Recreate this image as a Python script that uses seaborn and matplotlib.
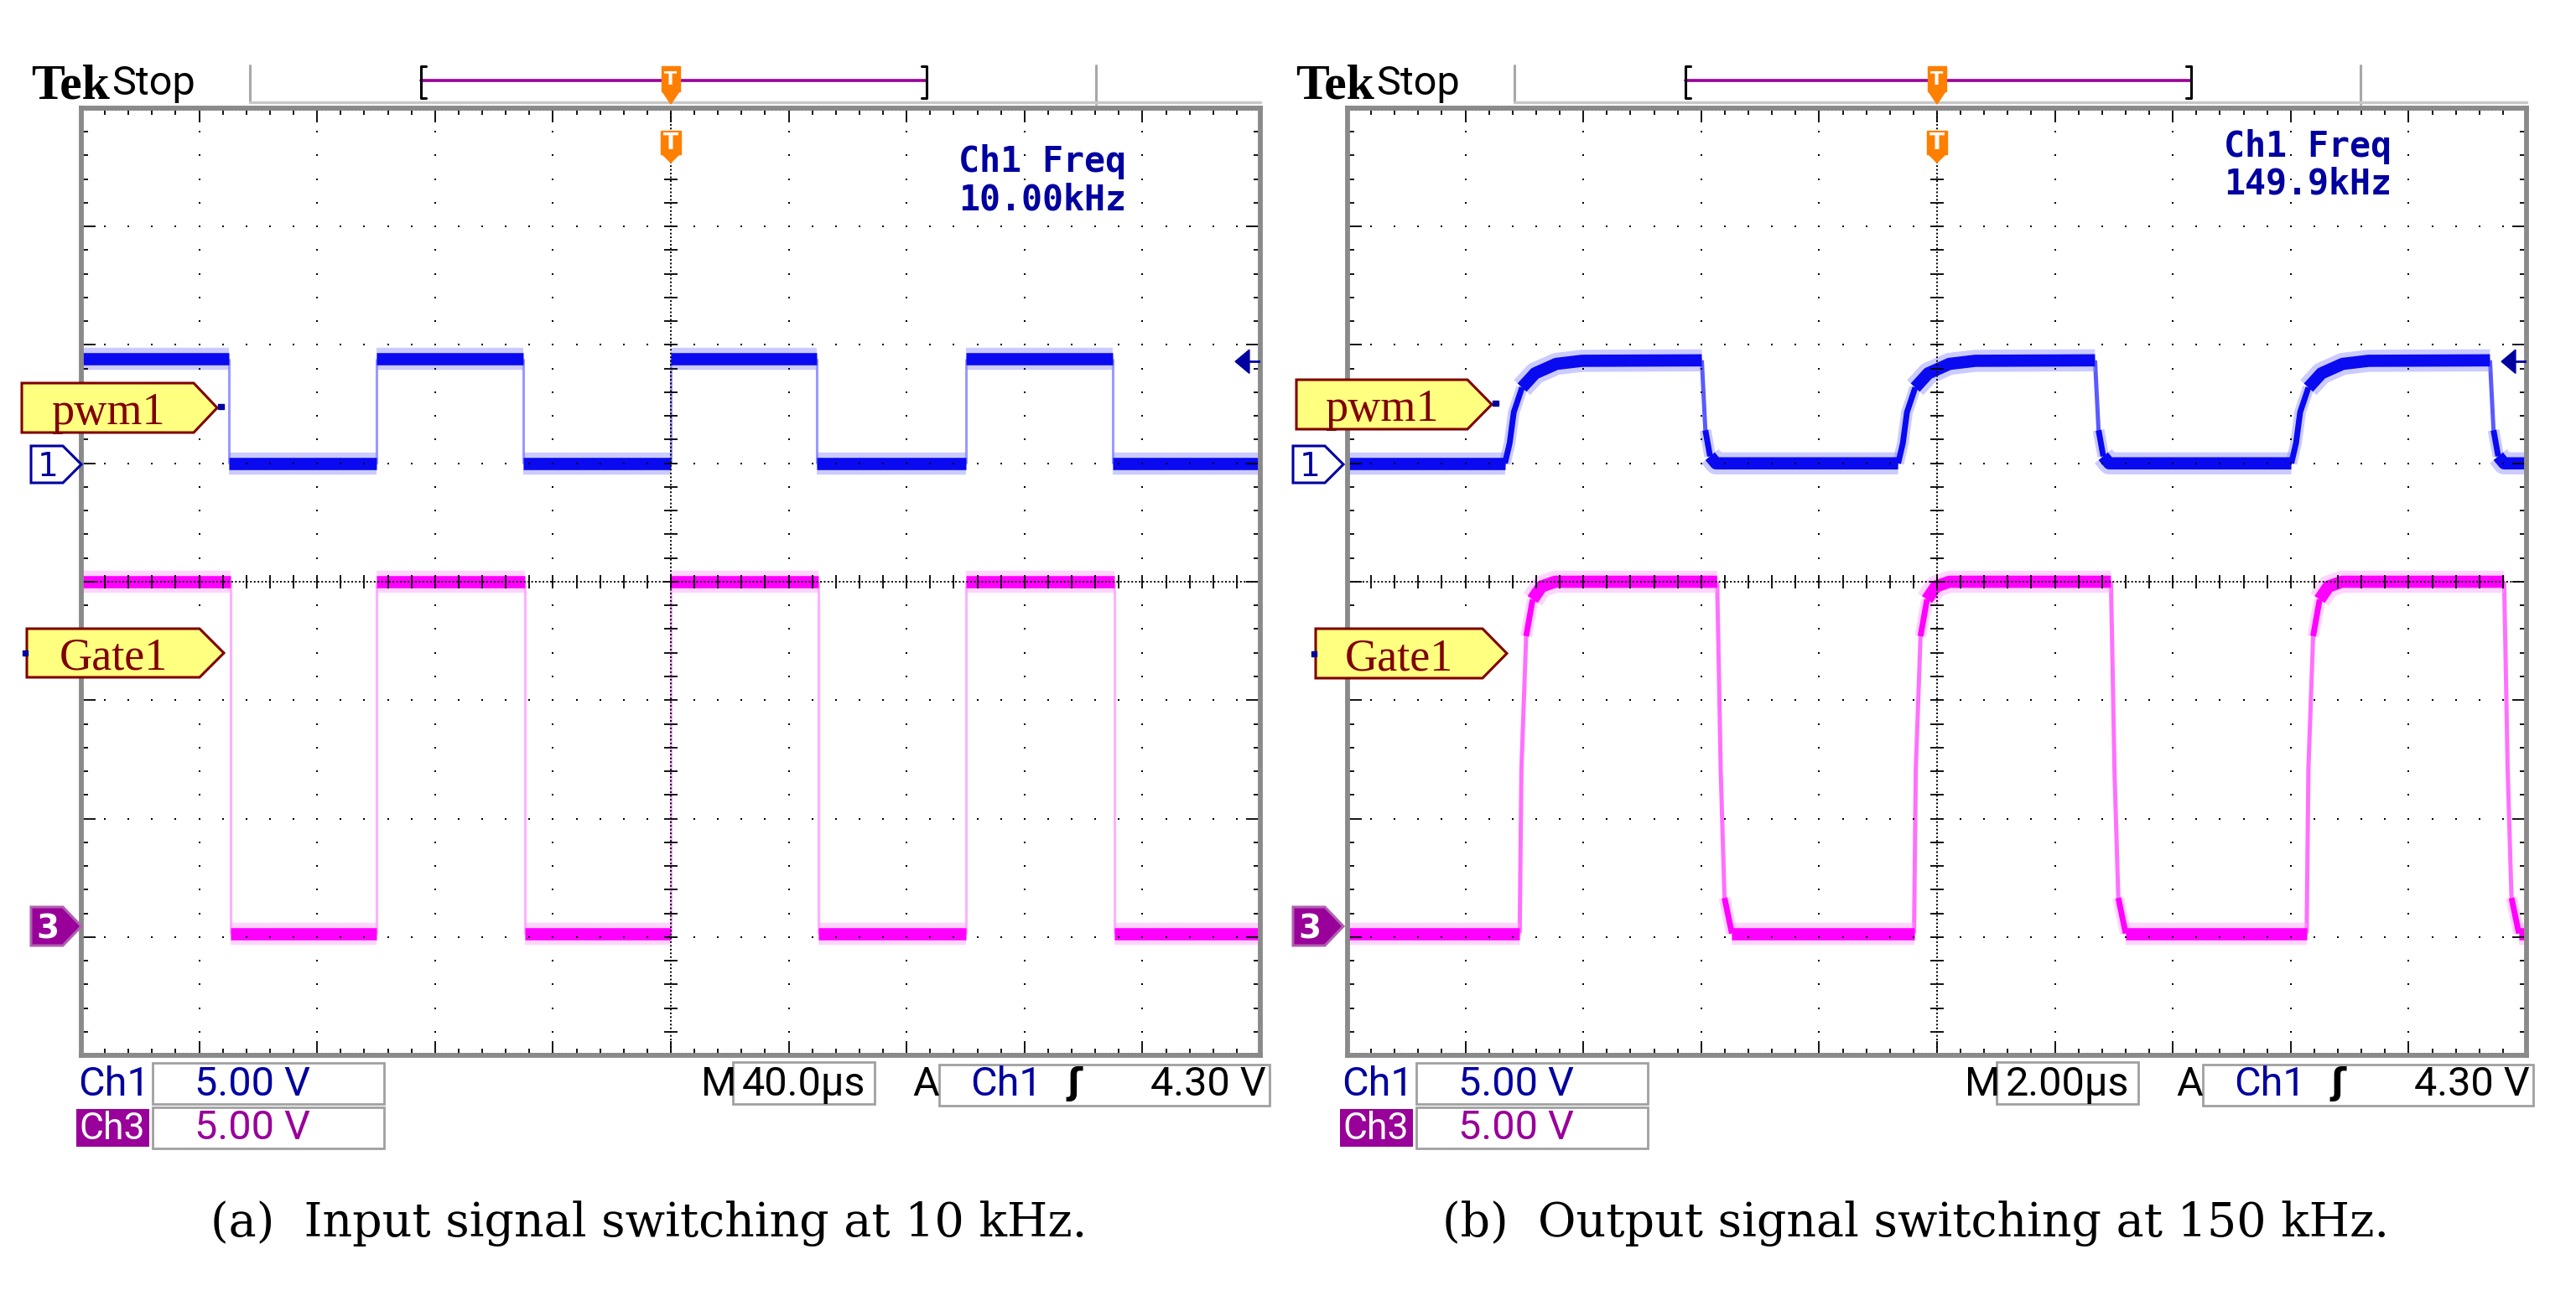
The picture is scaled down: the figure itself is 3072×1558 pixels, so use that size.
import matplotlib
matplotlib.use("Agg")
import matplotlib.pyplot as plt
from matplotlib.patches import Polygon, Rectangle
import numpy as np
import pandas as pd
import seaborn as sns

W, H, DPI = 3072, 1558, 100

# scope settings
TIME_PER_DIV = [40.0, 2.0]          # µs / div
TIME_LABELS = ["40.0µs", "2.00µs"]
FREQ_LABELS = ["10.00kHz", "149.9kHz"]
CAPTIONS = ["(a)  Input signal switching at 10 kHz.", "(b)  Output signal switching at 150 kHz."]
CH1_VDIV, CH3_VDIV = 5.0, 5.0       # V / div
CH1_POS, CH3_POS = 1.0, -2.90       # ground marker position, div
TRIG_LEVEL = 4.30
VOLT_LABELS = ["5.00 V", "5.00 V"]
TRIG_LABEL = "4.30 V"

# (a) 10 kHz, time in µs, volts
PWM_A_T = [-200, -150, -150, -100, -100, -50, -50, 0, 0, 49.5, 49.5, 100, 100, 150, 150, 200]
PWM_A_V = [4.4, 4.4, 0.0, 0.0, 4.4, 4.4, 0.0, 0.0, 4.4, 4.4, 0.0, 0.0, 4.4, 4.4, 0.0, 0.0]
GATE_A_T = [-200, -149.4, -149.4, -100, -100, -49.4, -49.4, 0, 0, 50.2, 50.2, 100, 100, 150.6, 150.6, 200]
GATE_A_V = [14.5, 14.5, -0.35, -0.35, 14.5, 14.5, -0.35, -0.35, 14.5, 14.5, -0.35, -0.35, 14.5, 14.5, -0.35, -0.35]

# (b) 150 kHz
PWM_B_T = [-10, -7.33, -7.25, -7.18, -7.04, -6.82, -6.46, -6.02, -3.99, -3.93, -3.85, -3.75,
           -0.66, -0.58, -0.51, -0.37, -0.15, 0.21, 0.65, 2.68, 2.74, 2.82, 2.92,
           6.01, 6.09, 6.16, 6.30, 6.52, 6.88, 7.32, 9.38, 9.44, 9.52, 9.62, 10]
PWM_B_V = [0, 0, 0.85, 2.16, 3.2, 3.8, 4.2, 4.33, 4.35, 1.4, 0.3, 0,
           0, 0.85, 2.16, 3.2, 3.8, 4.2, 4.33, 4.35, 1.4, 0.3, 0,
           0, 0.85, 2.16, 3.2, 3.8, 4.2, 4.33, 4.35, 1.4, 0.3, 0, 0]
GATE_B_T = [-10, -7.08, -7.05, -6.97, -6.86, -6.71, -6.48, -3.73, -3.70, -3.67, -3.605, -3.48,
            -0.39, -0.36, -0.28, -0.17, -0.02, 0.21, 2.95, 2.98, 3.01, 3.075, 3.20,
            6.27, 6.30, 6.38, 6.49, 6.64, 6.87, 9.62, 9.65, 9.68, 9.745, 9.87, 10]
GATE_B_V = [-0.35, -0.35, 6.6, 12.2, 13.75, 14.3, 14.5, 14.5, 10.65, 6.55, 1.15, -0.35,
            -0.35, 6.6, 12.2, 13.75, 14.3, 14.5, 14.5, 10.65, 6.55, 1.15, -0.35,
            -0.35, 6.6, 12.2, 13.75, 14.3, 14.5, 14.5, 10.65, 6.55, 1.15, -0.35, -0.35]

PANEL_X0 = [97, 1607]
PANEL_TOP, PANEL_BOT, PANEL_W = 129, 1259, 1406

NAVY = "#0000A0"
PURPLE = "#990099"
ORANGE = "#FF7F00"
DARKRED = "#800000"
NARROW = ["Roboto", "DejaVu Sans"]


def trace_frame(t, v, pos, vdiv, tdiv):
    x = np.asarray(t, float)
    y = pos + np.asarray(v, float) / vdiv
    rows, run, prev = [], 0, None
    for i in range(len(x) - 1):
        slope = abs(y[i + 1] - y[i]) / max((x[i + 1] - x[i]) / tdiv, 1e-6)
        kind = "flat" if slope < 1.5 else "mid" if slope < 12 else "edge"
        if kind != prev:
            run += 1
            prev = kind
        rows += [(x[i], y[i], kind, run), (x[i + 1], y[i + 1], kind, run)]
    return pd.DataFrame(rows, columns=["t", "y", "kind", "run"])


def draw_trace(ax, df, core, halo, edge, edge_lw):
    kw = dict(x="t", y="y", units="run", estimator=None, sort=False, ax=ax, legend=False,
              solid_capstyle="butt", solid_joinstyle="round")
    sns.lineplot(data=df, color=edge, linewidth=edge_lw, zorder=3, **kw)
    parts = [("mid", 5.0, 10.0), ("flat", 10.5, 19.0)]
    for kind, _, lw_halo in parts:
        sub = df[df.kind == kind]
        if len(sub):
            sns.lineplot(data=sub, color=halo, linewidth=lw_halo, alpha=0.45, zorder=4, **kw)
    for kind, lw_core, _ in parts:
        sub = df[df.kind == kind]
        if len(sub):
            sns.lineplot(data=sub, color=core, linewidth=lw_core, zorder=5, **kw)


def graticule(ax, tdiv):
    ys = np.arange(-20, 21) * 0.2
    xs = np.arange(-25, 26) * 0.2
    px, py = [], []
    for k in [-4, -3, -2, -1, 1, 2, 3, 4]:
        px += [k * tdiv] * len(ys)
        py += list(ys)
    for k in [-3, -2, -1, 1, 2, 3]:
        px += list(xs * tdiv)
        py += [k] * len(xs)
    ax.scatter(px, py, marker="s", s=4.5, color="black", linewidths=0, zorder=6)
    dense = dict(color="black", lw=1.4, ls=(0, (1, 1.3)), zorder=6)
    ax.axhline(0, **dense)
    ax.axvline(0, **dense)
    ax.vlines(xs * tdiv, -0.055, 0.055, color="black", lw=1.3, zorder=6)
    ax.hlines(ys, -0.055 * tdiv, 0.055 * tdiv, color="black", lw=1.3, zorder=6)
    # edge rulers
    ax.axhline(-3.985, **dense)
    ax.axhline(3.985, **dense)
    ax.axvline(-4.99 * tdiv, **dense)
    ax.axvline(4.99 * tdiv, **dense)
    ln = np.where(np.isclose(xs % 1, 0) | np.isclose(xs % 1, 1), 0.12, 0.06)
    ax.vlines(xs * tdiv, -4, -4 + ln, color="black", lw=1.3, zorder=6)
    ax.vlines(xs * tdiv, 4 - ln, 4, color="black", lw=1.3, zorder=6)
    lny = np.where(np.isclose(ys % 1, 0) | np.isclose(ys % 1, 1), 0.12, 0.06)
    ax.hlines(ys, -5 * tdiv, (-5 + lny) * tdiv, color="black", lw=1.3, zorder=6)
    ax.hlines(ys, (5 - lny) * tdiv, 5 * tdiv, color="black", lw=1.3, zorder=6)


def tag(ax, x0, xb, xt, y0, y1, text, fc, ec, tc, size, family, weight="normal", lw=2.2):
    yc = (y0 + y1) / 2
    ax.add_patch(Polygon([(x0, y0), (xb, y0), (xt, yc), (xb, y1), (x0, y1)], closed=True,
                         fc=fc, ec=ec, lw=lw, zorder=3))
    ax.text((x0 + xb) / 2, y1 - 10, text, ha="center", va="baseline", color=tc,
            fontsize=size, family=family, fontweight=weight, zorder=4)


def main() -> None:
    sns.set_theme(style="white")
    plt.rcParams["font.family"] = ["DejaVu Sans"]
    fig = plt.figure(figsize=(W / DPI, H / DPI), dpi=DPI)
    fig.patch.set_facecolor("white")

    traces = [(PWM_A_T, PWM_A_V, GATE_A_T, GATE_A_V), (PWM_B_T, PWM_B_V, GATE_B_T, GATE_B_V)]
    for i, (pt, pv, gt, gv) in enumerate(traces):
        tdiv = TIME_PER_DIV[i]
        ax = fig.add_axes([PANEL_X0[i] / W, (H - PANEL_BOT) / H, PANEL_W / W, (PANEL_BOT - PANEL_TOP) / H])
        ax.set_facecolor("white")
        elw = [2.2, 3.6][i]
        draw_trace(ax, trace_frame(pt, pv, CH1_POS, CH1_VDIV, tdiv), "#0A0AF0", "#8C8CFF",
                   ["#9A9AFF", "#5A5AFF"][i], elw)
        draw_trace(ax, trace_frame(gt, gv, CH3_POS, CH3_VDIV, tdiv), "#FF00FF", "#FFA0FF",
                   ["#FFB0FF", "#FF70FF"][i], elw)
        graticule(ax, tdiv)
        ax.set_xlim(-5 * tdiv, 5 * tdiv)
        ax.set_ylim(-4, 4)
        ax.set_xticks([])
        ax.set_yticks([])
        ax.set_xlabel("")
        ax.set_ylabel("")
        for s in ax.spines.values():
            s.set_color("#8A8A8A")
            s.set_linewidth(4.2)
            s.set_zorder(7)
        # trigger level arrow on the right edge
        yt = CH1_POS + TRIG_LEVEL / CH1_VDIV
        tr = ax.get_yaxis_transform()
        ax.add_patch(Polygon([(0.9787, yt), (0.9907, yt + 0.1), (0.9907, yt - 0.1)], closed=True,
                             fc=NAVY, ec=NAVY, transform=tr, zorder=8))
        ax.plot([0.99, 1.0], [yt, yt], color=NAVY, lw=2, transform=tr, zorder=8)

    ov = fig.add_axes([0, 0, 1, 1], zorder=10)
    ov.set_xlim(0, W)
    ov.set_ylim(H, 0)
    ov.axis("off")
    ov.patch.set_alpha(0)

    for i in range(2):
        d = 1508 * i
        c = PANEL_X0[i] + PANEL_W / 2
        # header
        ov.text(37 + d, 117, "Tek", family="Liberation Serif", fontweight="bold", fontsize=43,
                va="baseline", ha="left", color="black")
        ov.text(133 + d, 113, "Stop", family=NARROW, fontsize=35, va="baseline", ha="left", color="black")
        ov.plot([298 + d, 298 + d], [78, 122], color="#A8A8A8", lw=2.2)
        ov.plot([1307 + d, 1307 + d], [78, 124], color="#A8A8A8", lw=2.2)
        ov.plot([298 + d, PANEL_X0[i] + PANEL_W], [122, 122], color="#C8C8C8", lw=2.5)
        # trigger position bracket
        ov.plot([502 + d, 1105 + d], [96, 96], color=PURPLE, lw=2.6)
        ov.plot([508 + d, 502 + d, 502 + d, 508 + d], [79, 79, 117, 117], color="black", lw=2.2)
        ov.plot([1099 + d, 1105 + d, 1105 + d, 1099 + d], [79, 79, 117, 117], color="black", lw=2.2)
        ov.add_patch(Rectangle((c - 11, 79), 22, 30, fc=ORANGE, ec=ORANGE, zorder=5))
        ov.add_patch(Polygon([(c - 10, 109), (c + 10, 109), (c, 124)], fc=ORANGE, ec=ORANGE, zorder=5))
        ov.text(c, 95, "T", color="white", fontsize=16, fontweight="bold", ha="center", va="center", zorder=6)
        ov.add_patch(Rectangle((c - 12, 156), 24, 28, fc=ORANGE, ec=ORANGE, zorder=5))
        ov.add_patch(Polygon([(c - 10, 184), (c + 10, 184), (c, 194)], fc=ORANGE, ec=ORANGE, zorder=5))
        ov.text(c, 171, "T", color="white", fontsize=19, fontweight="bold", ha="center", va="center", zorder=6)
        # measurement readout
        fy = [(205, 250), (187, 231)][i]
        fx = [1343, 2852][i]
        ov.text(fx, fy[0], "Ch1 Freq", family="DejaVu Sans Mono", fontweight="bold", fontsize=30,
                color=NAVY, ha="right", va="baseline")
        ov.text(fx, fy[1], FREQ_LABELS[i], family="DejaVu Sans Mono", fontweight="bold", fontsize=30,
                color=NAVY, ha="right", va="baseline")
        # ground markers
        m = 1505 * i
        tag(ov, 37 + m, 75 + m, 97 + m, 532, 576, "", "white", NAVY, NAVY, 26, "DejaVu Sans")
        ov.text(57 + m, 568, "1", color=NAVY, fontsize=28, ha="center", va="baseline")
        tag(ov, 37 + m, 75 + m, 97 + m, 1082, 1128, "", PURPLE, "#B060B0", "white", 26, "DejaVu Sans")
        ov.text(57 + m, 1120, "3", color="white", fontsize=28, fontweight="bold", ha="center", va="baseline")

        # status bar
        s = 1507 * i
        fs = 35
        ov.text(93 + s, 1307, "Ch1", family=NARROW, fontsize=fs, color=NAVY, va="baseline")
        ov.add_patch(Rectangle((182 + s, 1268), 276, 49, fc="white", ec="#A0A0A0", lw=2))
        ov.text(232 + s, 1307, VOLT_LABELS[0], family=NARROW, fontsize=fs, color=NAVY, va="baseline")
        ov.add_patch(Rectangle((91 + s, 1323), 87, 45, fc=PURPLE, ec=PURPLE, lw=0))
        ov.text(134 + s, 1359, "Ch3", family=NARROW, fontsize=32, color="white", va="baseline", ha="center")
        ov.add_patch(Rectangle((182 + s, 1321), 276, 49, fc="white", ec="#A0A0A0", lw=2))
        ov.text(232 + s, 1359, VOLT_LABELS[1], family=NARROW, fontsize=fs, color=PURPLE, va="baseline")
        ov.text(836 + s, 1307, "M", family=NARROW, fontsize=fs, color="black", va="baseline")
        ov.add_patch(Rectangle((874 + s, 1267), 169, 50, fc="white", ec="#A0A0A0", lw=2))
        ov.text(958 + s, 1307, TIME_LABELS[i], family=NARROW, fontsize=fs, color="black",
                va="baseline", ha="center")
        ov.text(1088 + s, 1307, "A", family=NARROW, fontsize=fs, color="black", va="baseline")
        ov.add_patch(Rectangle((1120 + s, 1270), 394, 49, fc="white", ec="#A0A0A0", lw=2))
        ov.text(1157 + s, 1307, "Ch1", family=NARROW, fontsize=fs, color=NAVY, va="baseline")
        ov.text(1281 + s, 1305, "ʃ", family=["DejaVu Sans"], fontsize=31, fontweight="bold",
                color="black", va="baseline", ha="center")
        ov.text(1510 + s, 1307, TRIG_LABEL, family=NARROW, fontsize=fs, color="black",
                va="baseline", ha="right")

        # caption
        ov.text([774, 2285][i], 1475, CAPTIONS[i], family="DejaVu Serif", fontsize=40,
                ha="center", va="baseline", color="black")

    # channel name tags
    pwm_tags = [(26, 231, 259, 457, 516), (1546, 1750, 1779, 453, 512)]
    gate_tags = [(32, 238, 267, 750, 808), (1569, 1768, 1797, 750, 809)]
    for (x0, xb, xt, y0, y1) in pwm_tags:
        tag(ov, x0, xb, xt, y0, y1, "pwm1", "#FFFF80", DARKRED, DARKRED, 39, "Liberation Serif")
        ov.add_patch(Rectangle((xt + 1, (y0 + y1) / 2 - 5), 7, 6, fc=NAVY, ec=NAVY, zorder=5))
    for (x0, xb, xt, y0, y1) in gate_tags:
        tag(ov, x0, xb, xt, y0, y1, "Gate1", "#FFFF80", DARKRED, DARKRED, 39, "Liberation Serif")
        ov.add_patch(Rectangle((x0 - 5, (y0 + y1) / 2 - 3), 6, 6, fc=NAVY, ec=NAVY, zorder=5))

    fig.savefig("out.png", dpi=DPI)
    plt.close(fig)


if __name__ == "__main__":
    main()
